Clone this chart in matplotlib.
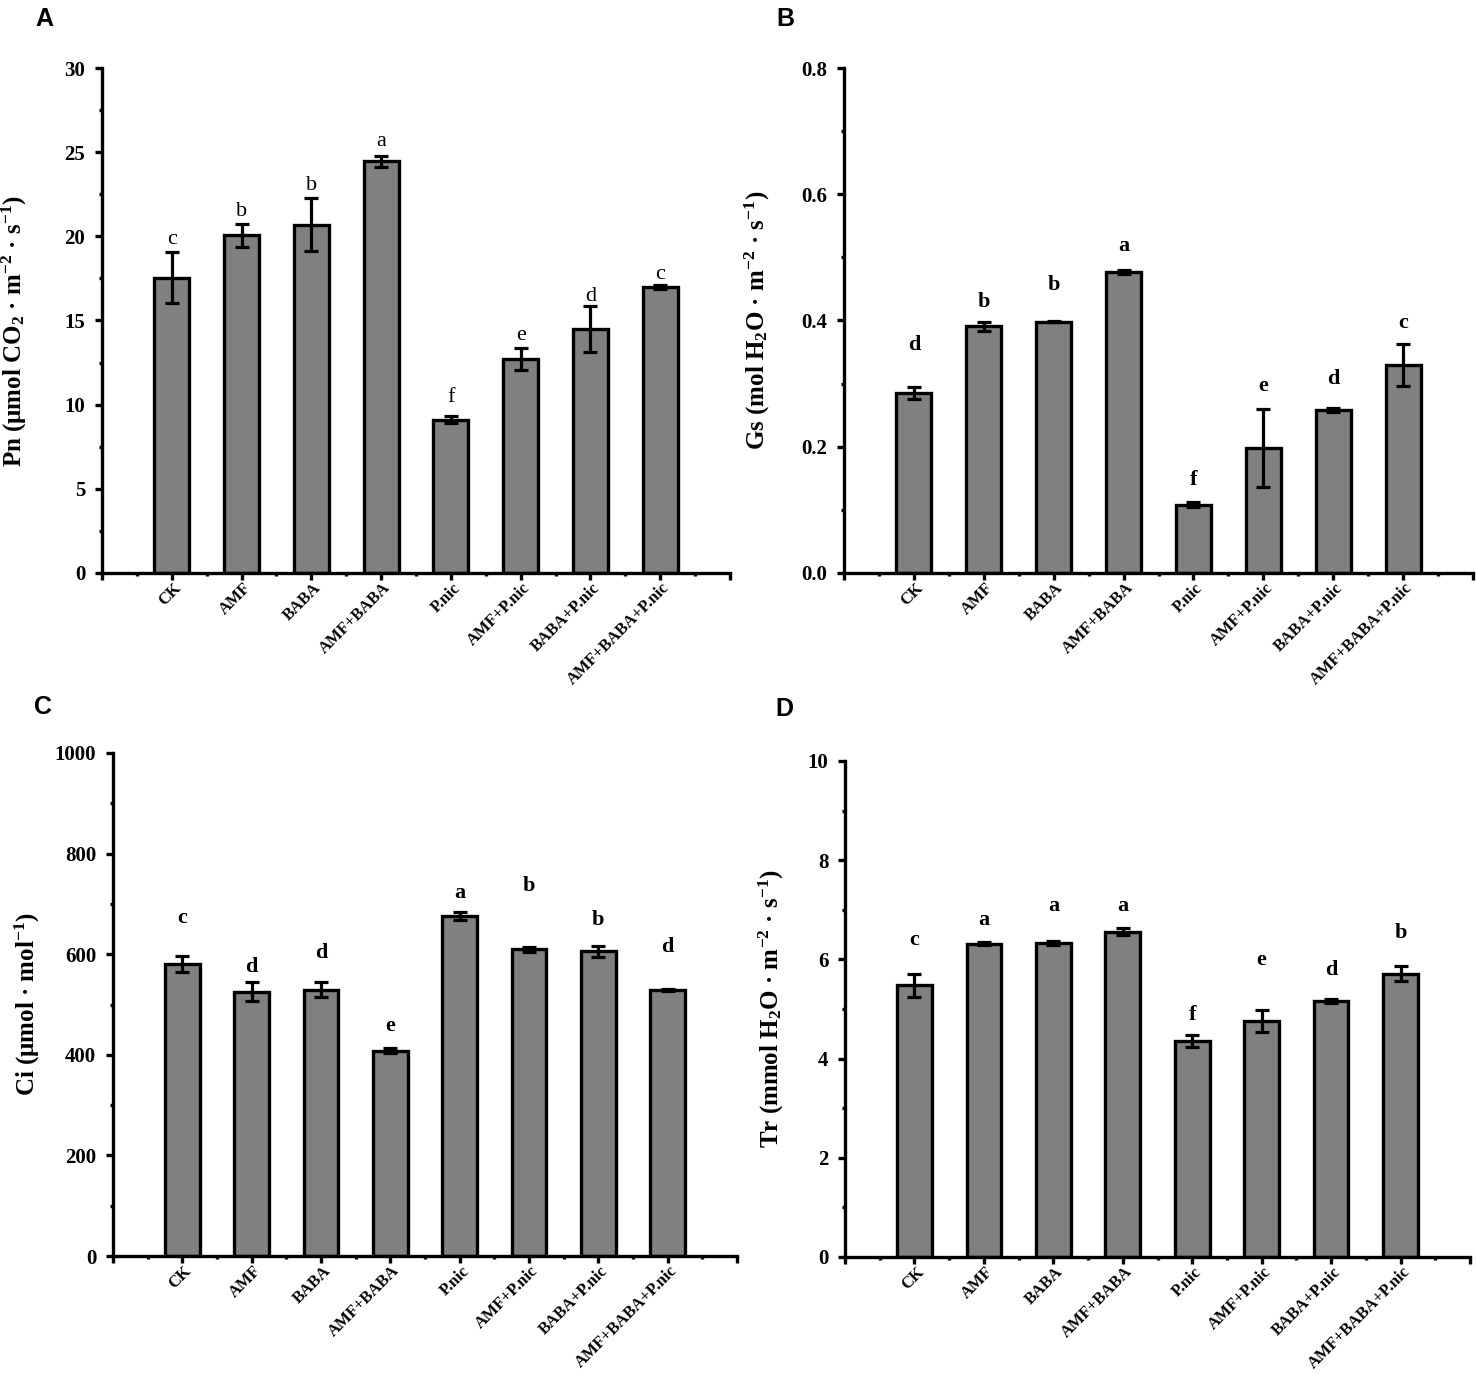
import numpy as np
import matplotlib
matplotlib.use('Agg')
import matplotlib.pyplot as plt
from matplotlib.ticker import MultipleLocator
from matplotlib.transforms import ScaledTranslation

plt.rcParams['font.family'] = 'Liberation Serif'
plt.rcParams['font.weight'] = 'bold'
plt.rcParams['mathtext.default'] = 'regular'

groups = ['CK', 'AMF', 'BABA', 'AMF+BABA', 'P.nic', 'AMF+P.nic', 'BABA+P.nic', 'AMF+BABA+P.nic']

# Pn
pn_mean = [17.55, 20.05, 20.7, 24.45, 9.1, 12.7, 14.5, 17.0]
pn_err = [1.5, 0.7, 1.55, 0.35, 0.2, 0.65, 1.35, 0.1]
pn_letters = ['c', 'b', 'b', 'a', 'f', 'e', 'd', 'c']
pn_letter_y = [19.8, 21.5, 23.0, 25.65, 10.4, 14.1, 16.45, 17.75]

# Gs
gs_mean = [0.285, 0.391, 0.398, 0.477, 0.108, 0.198, 0.258, 0.33]
gs_err = [0.009, 0.007, 0.001, 0.003, 0.004, 0.062, 0.003, 0.033]
gs_letters = ['d', 'b', 'b', 'a', 'f', 'e', 'd', 'c']
gs_letter_y = [0.361, 0.430, 0.457, 0.518, 0.148, 0.297, 0.308, 0.396]

# Ci
ci_mean = [581, 525, 529, 408, 675, 610, 606, 529]
ci_err = [16, 19, 15, 5, 8, 5, 11, 1.5]
ci_letters = ['c', 'd', 'd', 'e', 'a', 'b', 'b', 'd']
ci_letter_y = [672, 575, 602, 457, 721, 735, 667, 614]

# Tr
tr_mean = [5.48, 6.32, 6.34, 6.56, 4.36, 4.75, 5.17, 5.71]
tr_err = [0.23, 0.03, 0.04, 0.07, 0.12, 0.22, 0.04, 0.15]
tr_letters = ['c', 'a', 'a', 'a', 'f', 'e', 'd', 'b']
tr_letter_y = [6.39, 6.79, 7.07, 7.07, 4.87, 5.98, 5.79, 6.54]


def draw_panel(ax, means, errs, letters, letter_y, ymax, ystep, ylabel, label_x, label_y, letter_weight):
    x = np.arange(1, len(groups) + 1)
    ax.bar(x, means, width=0.5, color='#808080', edgecolor='black', linewidth=2.4, zorder=2)
    ax.errorbar(x, means, yerr=errs, fmt='none', ecolor='black', elinewidth=2.3,
                capsize=5, capthick=2.3, zorder=3)
    for xi, l, ly in zip(x, letters, letter_y):
        ax.text(xi, ly, l, ha='center', va='center', fontsize=16, fontweight=letter_weight)
    ax.set_xlim(0, 9)
    ax.set_ylim(0, ymax)
    ax.spines['top'].set_visible(False)
    ax.spines['right'].set_visible(False)
    ax.spines['left'].set_linewidth(2.4)
    ax.spines['bottom'].set_linewidth(2.4)
    ax.tick_params(which='major', direction='out', length=5, width=2.4)
    ax.tick_params(axis='y', which='major', pad=7, labelsize=15)
    ax.tick_params(axis='x', which='major', pad=4)
    ax.tick_params(which='minor', direction='out', length=2.5, width=2.4)
    ax.xaxis.set_minor_locator(MultipleLocator(0.5))
    ax.yaxis.set_major_locator(MultipleLocator(ystep))
    ax.yaxis.set_minor_locator(MultipleLocator(ystep / 2))
    ax.set_xticks(range(10))
    ax.set_xticklabels([''] + groups + [''], rotation=45, ha='right', va='center',
                       rotation_mode='anchor', fontsize=12, fontweight='bold')
    shift = ScaledTranslation(7 / 100, 0, ax.figure.dpi_scale_trans)
    for lab in ax.get_xticklabels():
        lab.set_transform(lab.get_transform() + shift)
    ax.set_ylabel(ylabel, fontsize=18, fontweight='bold')
    ax.yaxis.set_label_coords(label_x, label_y)


W, H = 1476, 1374
fig = plt.figure(figsize=(W / 100, H / 100), dpi=100)

axA = fig.add_axes([102 / W, 1 - 573 / H, 628 / W, 505 / H])
axB = fig.add_axes([844 / W, 1 - 573 / H, 629 / W, 505 / H])
axC = fig.add_axes([113 / W, 1 - 1256 / H, 624 / W, 503 / H])
axD = fig.add_axes([845 / W, 1 - 1257 / H, 625 / W, 496 / H])

draw_panel(axA, pn_mean, pn_err, pn_letters, pn_letter_y, 30, 5,
           r'Pn (μmol CO$_2$ · m$^{-2}$ · s$^{-1}$)', -0.117, 0.48, 'normal')
draw_panel(axB, gs_mean, gs_err, gs_letters, gs_letter_y, 0.8, 0.2,
           r'Gs (mol H$_2$O · m$^{-2}$ · s$^{-1}$)', -0.114, 0.5, 'bold')
draw_panel(axC, ci_mean, ci_err, ci_letters, ci_letter_y, 1000, 200,
           r'Ci (μmol · mol$^{-1}$)', -0.113, 0.5, 'bold')
draw_panel(axD, tr_mean, tr_err, tr_letters, tr_letter_y, 10, 2,
           r'Tr (mmol H$_2$O · m$^{-2}$ · s$^{-1}$)', -0.094, 0.5, 'bold')

for lab, px, py in [('A', 35, 7), ('B', 776, 7), ('C', 34, 695), ('D', 775, 697)]:
    fig.text(px / W, 1 - py / H, lab, fontfamily='Liberation Sans', fontweight='bold',
             fontsize=18, ha='left', va='top')

plt.savefig('out.png', dpi=100)
